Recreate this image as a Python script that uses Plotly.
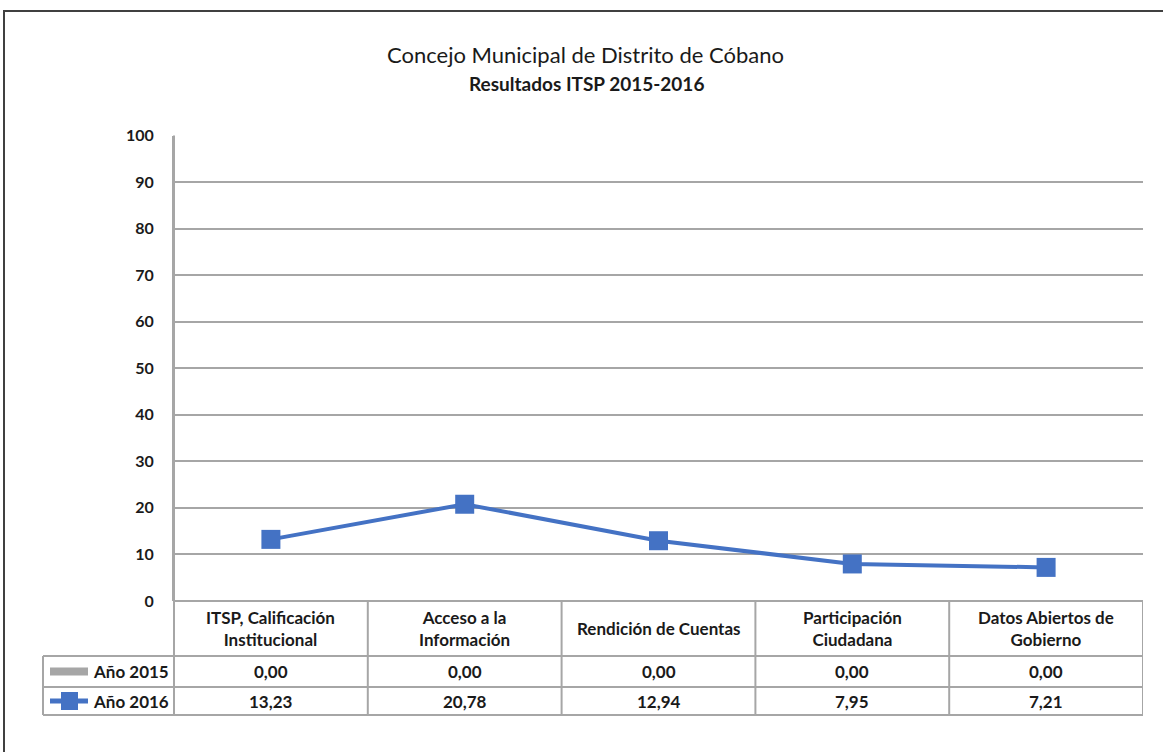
import plotly.graph_objects as go

# ---------------- data ----------------
categories = [
    "ITSP, Calificación<br>Institucional",
    "Acceso a la<br>Información",
    "Rendición de Cuentas",
    "Participación<br>Ciudadana",
    "Datos Abiertos de<br>Gobierno",
]
series_names = ["Año 2015", "Año 2016"]
values_2015 = [0.00, 0.00, 0.00, 0.00, 0.00]
values_2016 = [13.23, 20.78, 12.94, 7.95, 7.21]
y_ticks = [0, 10, 20, 30, 40, 50, 60, 70, 80, 90, 100]
title_main = "Concejo Municipal de Distrito de Cóbano"
title_sub = "Resultados ITSP 2015-2016"

# ---------------- styling ----------------
W, H = 1163, 752
FONT = "Lato"
TXT = "#1a1a1a"
GRID = "#a6a6a6"
BLUE = "#4472C4"
GREY = "#a6a6a6"

# vertical mapping correction observed in the rendered capture
Y_OFF, Y_SCALE = 9.5, 0.974

def px(x):
    return x / W

def py(y):
    page_y = (y - Y_OFF) / Y_SCALE
    return 1 - page_y / H

plot_left, plot_right = 174, 1143
plot_top, plot_bottom = 135, 600
row_header_bottom = 655
row_2015_bottom = 686
row_2016_bottom = 714
legend_left = 43

fig = go.Figure()

fig.add_trace(go.Scatter(
    x=list(range(len(categories))), y=values_2015, mode="lines",
    line=dict(color=GREY, width=2), name=series_names[0], hoverinfo="skip",
))
fig.add_trace(go.Scatter(
    x=list(range(len(categories))), y=values_2016, mode="lines+markers",
    line=dict(color=BLUE, width=4),
    marker=dict(symbol="square", size=19, color=BLUE),
    name=series_names[1],
))

fig.update_layout(
    width=W, height=H, autosize=False,
    margin=dict(l=0, r=0, t=0, b=0),
    paper_bgcolor="white", plot_bgcolor="white",
    showlegend=False,
    font=dict(family=FONT, color=TXT),
    xaxis=dict(
        domain=[px(plot_left), px(plot_right)],
        range=[-0.5, len(categories) - 0.5],
        showticklabels=False, showgrid=False, zeroline=False, showline=False,
        fixedrange=True,
    ),
    yaxis=dict(
        domain=[py(plot_bottom), py(plot_top)],
        range=[0, 100],
        tickvals=y_ticks, ticktext=[str(t) for t in y_ticks],
        tickfont=dict(family=FONT, size=16, color=TXT, weight="bold"),
        ticklabelstandoff=15,
        showgrid=True, gridcolor=GRID, gridwidth=2,
        zeroline=False,
        showline=True, linecolor=GRID, linewidth=2,
        ticks="", fixedrange=True,
    ),
)

shapes = []
# outer frame
shapes.append(dict(type="rect", xref="paper", yref="paper",
                   x0=px(4), x1=px(W + 10), y0=-0.05, y1=min(py(8), 0.9985),
                   line=dict(color="#404040", width=2), layer="below"))
line_style = dict(color=GRID, width=2)
# vertical axis extension through table
shapes.append(dict(type="line", xref="paper", yref="paper",
                   x0=px(plot_left), x1=px(plot_left),
                   y0=py(plot_top), y1=py(row_2016_bottom), line=line_style))
# horizontal lines of table
shapes.append(dict(type="line", xref="paper", yref="paper",
                   x0=px(plot_left), x1=px(plot_right), y0=py(plot_bottom), y1=py(plot_bottom), line=line_style))
for yy in [row_header_bottom, row_2015_bottom, row_2016_bottom]:
    shapes.append(dict(type="line", xref="paper", yref="paper",
                       x0=px(legend_left), x1=px(plot_right), y0=py(yy), y1=py(yy), line=line_style))
# left border of legend column
shapes.append(dict(type="line", xref="paper", yref="paper",
                   x0=px(legend_left), x1=px(legend_left),
                   y0=py(row_header_bottom), y1=py(row_2016_bottom), line=line_style))
# vertical separators between categories
for i in range(len(categories)):
    shapes.append(dict(type="line", xref="x", yref="paper",
                       x0=i + 0.5, x1=i + 0.5,
                       y0=py(plot_bottom), y1=py(row_2016_bottom), line=line_style))
# legend keys
r15 = (row_header_bottom + row_2015_bottom) / 2
r16 = (row_2015_bottom + row_2016_bottom) / 2
shapes.append(dict(type="line", xref="paper", yref="paper",
                   x0=px(50), x1=px(88), y0=py(r15), y1=py(r15),
                   line=dict(color=GREY, width=8)))
shapes.append(dict(type="line", xref="paper", yref="paper",
                   x0=px(50), x1=px(88), y0=py(r16), y1=py(r16),
                   line=dict(color=BLUE, width=5)))
shapes.append(dict(type="rect", xref="paper", yref="paper",
                   x0=px(61), x1=px(78), y0=py(r16 + 9), y1=py(r16 - 9),
                   line=dict(color=BLUE, width=0), fillcolor=BLUE))
fig.update_layout(shapes=shapes)

ann = []
ann.append(dict(text=title_main, xref="paper", yref="paper", x=px(585), y=py(54),
                xanchor="center", yanchor="middle",
                showarrow=False, font=dict(family=FONT, size=22, color=TXT)))
ann.append(dict(text="<b>" + title_sub + "</b>", xref="paper", yref="paper", x=px(586), y=py(83),
                xanchor="center", yanchor="middle",
                showarrow=False, font=dict(family=FONT, size=19, color=TXT)))

def fmt(v):
    return f"{v:.2f}".replace(".", ",")

TFS = 17
for i, cat in enumerate(categories):
    ann.append(dict(text="<b>" + cat + "</b>", xref="x", yref="paper", x=i,
                    y=py((plot_bottom + row_header_bottom) / 2 + 0.5),
                    xanchor="center", yanchor="middle",
                    showarrow=False, font=dict(family=FONT, size=TFS, color=TXT)))
    ann.append(dict(text="<b>" + fmt(values_2015[i]) + "</b>", xref="x", yref="paper", x=i,
                    y=py(r15),
                    xanchor="center", yanchor="middle",
                    showarrow=False, font=dict(family=FONT, size=TFS, color=TXT)))
    ann.append(dict(text="<b>" + fmt(values_2016[i]) + "</b>", xref="x", yref="paper", x=i,
                    y=py(r16),
                    xanchor="center", yanchor="middle",
                    showarrow=False, font=dict(family=FONT, size=TFS, color=TXT)))
for name, yy in zip(series_names, [r15, r16]):
    ann.append(dict(text="<b>" + name + "</b>", xref="paper", yref="paper", x=px(91), y=py(yy),
                    xanchor="left", yanchor="middle",
                    showarrow=False, font=dict(family=FONT, size=TFS, color=TXT)))
fig.update_layout(annotations=ann)

post = (
    "document.documentElement.style.margin='0';"
    "document.documentElement.style.overflow='hidden';"
    "document.documentElement.style.height='752px';"
    "document.body.style.margin='0';"
    "document.body.style.padding='0';"
    "document.body.style.overflow='hidden';"
    "document.body.style.height='752px';"
    "var gd=document.getElementById('{plot_id}');"
    "gd.style.position='absolute';gd.style.top='0px';gd.style.left='0px';"
    "gd.style.width='1163px';gd.style.height='752px';"
)
fig.write_html("out.html", post_script=post,
               config={"responsive": False, "displayModeBar": False})
